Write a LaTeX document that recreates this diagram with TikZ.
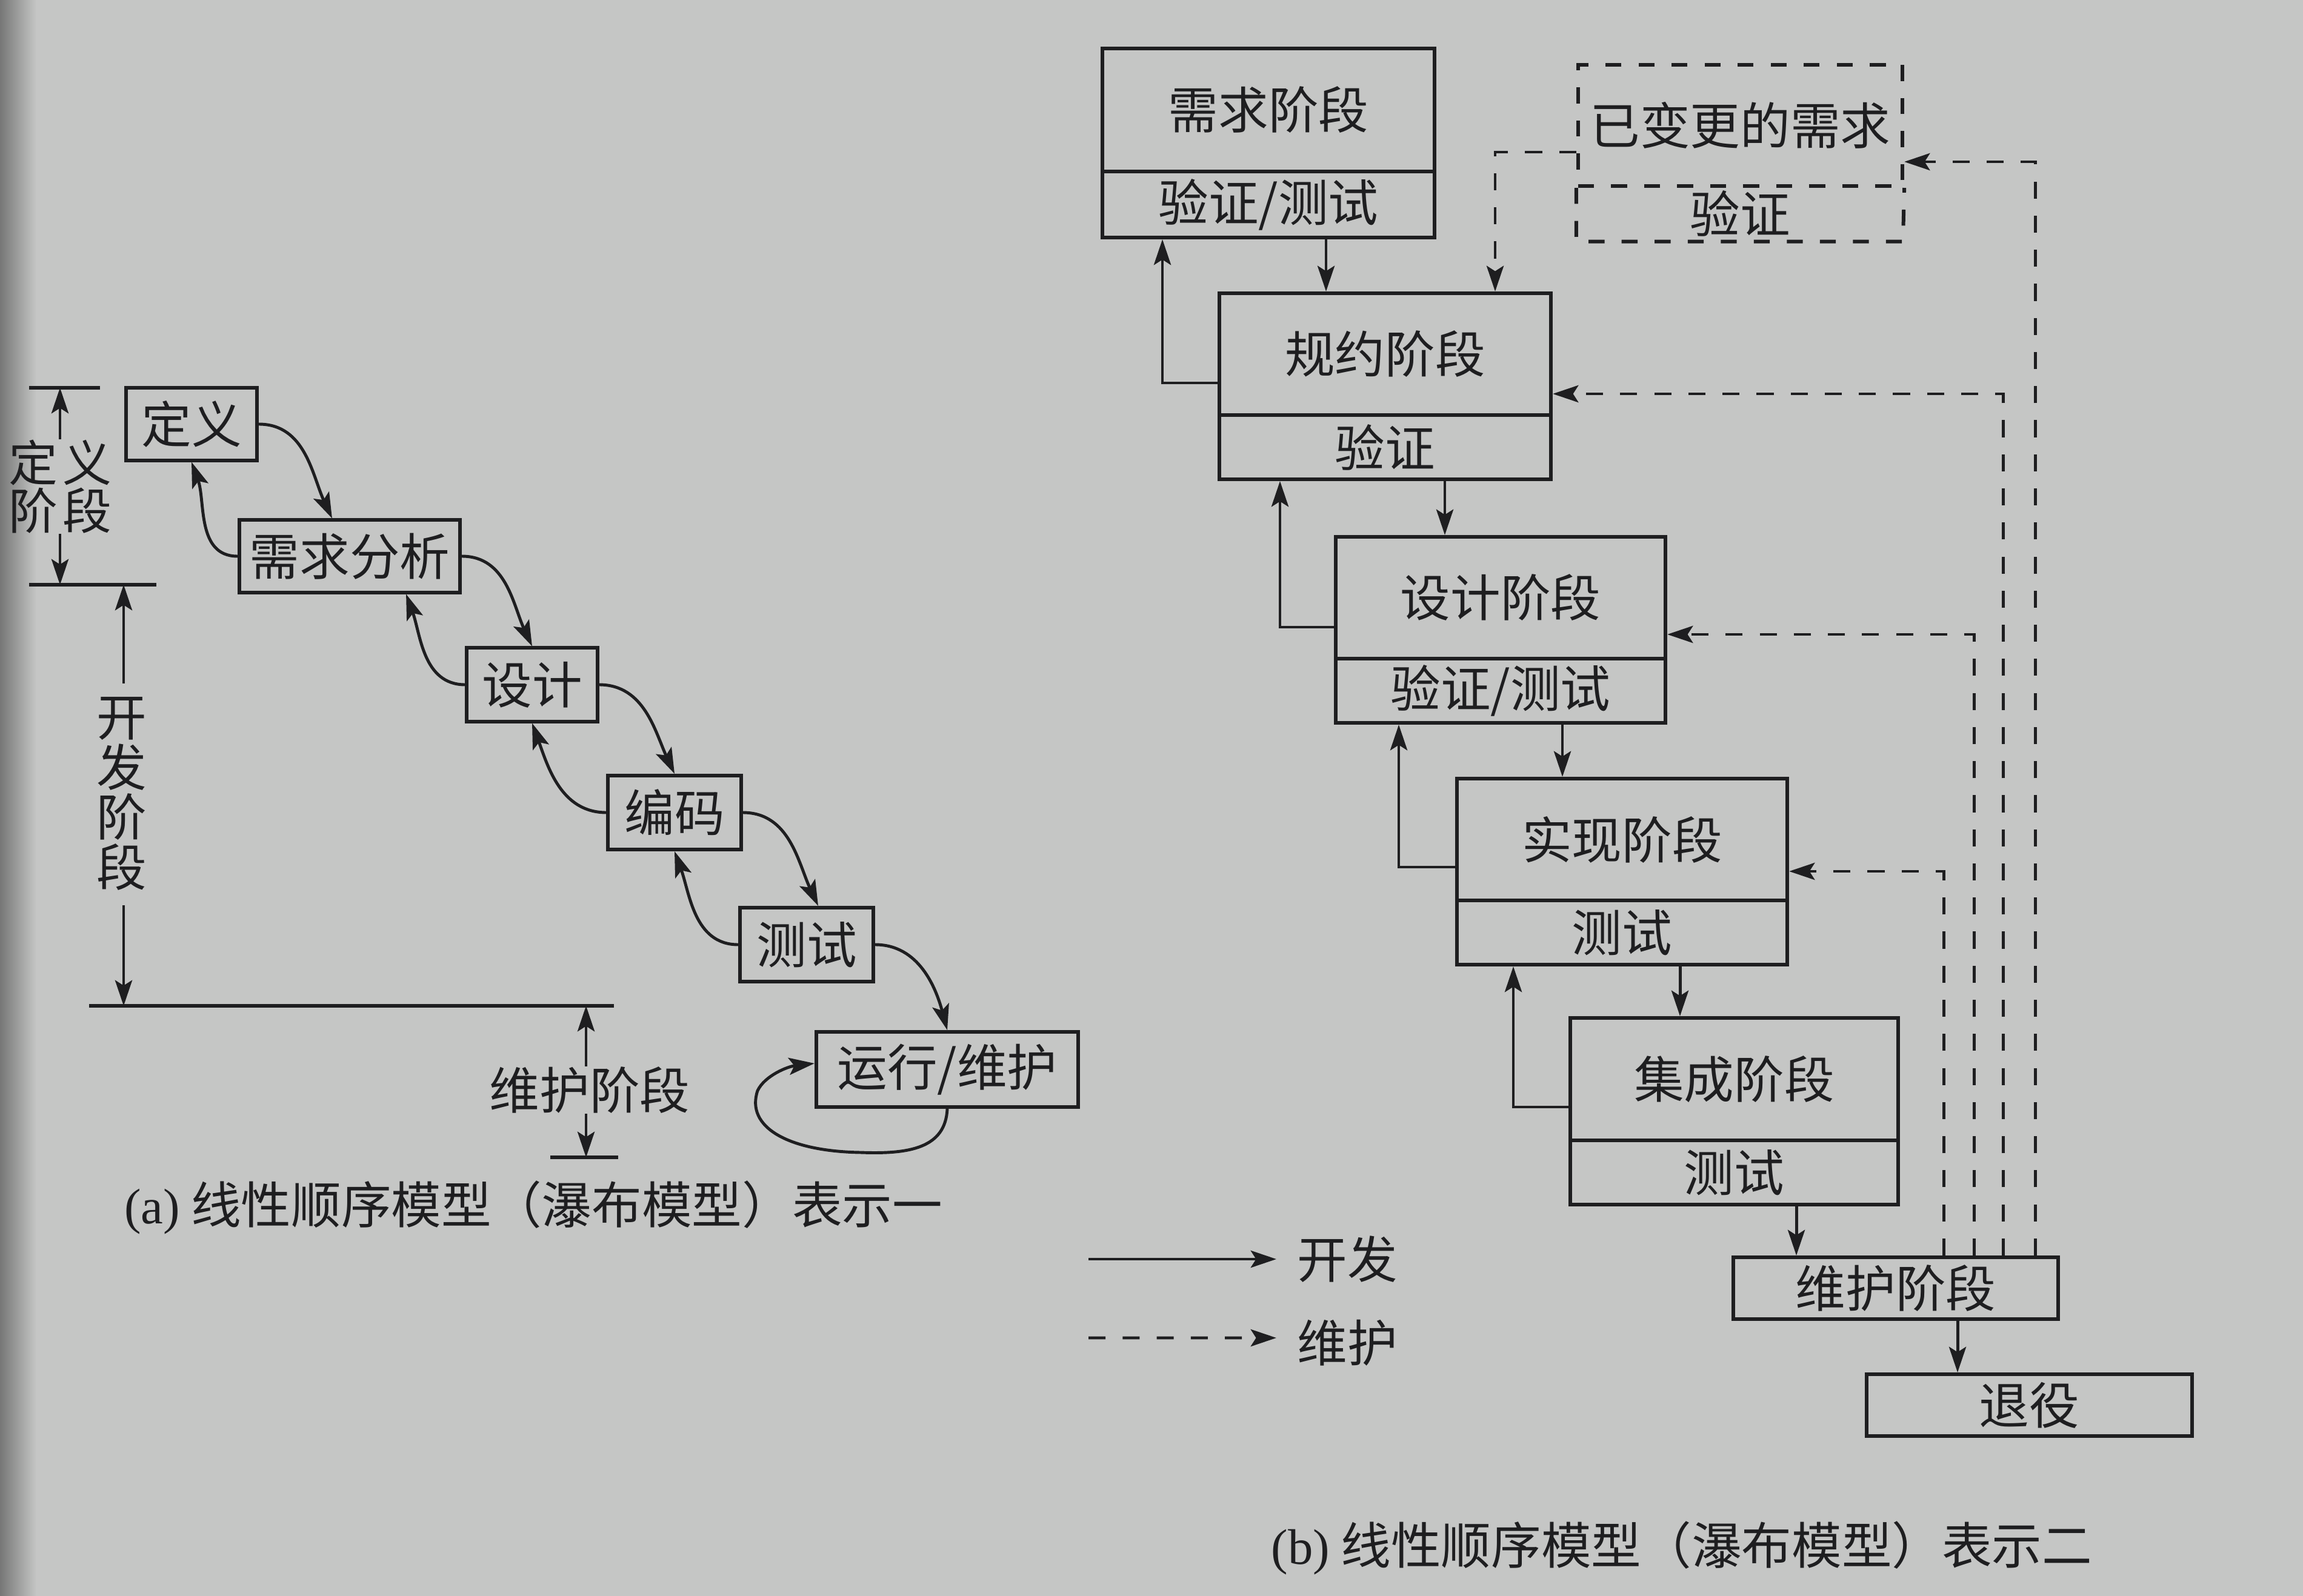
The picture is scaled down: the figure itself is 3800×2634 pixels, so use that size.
\documentclass[tikz,border=0pt]{standalone}
\usepackage{fontspec}
\setmainfont{Noto Sans CJK SC}
\newfontfamily\latf{Liberation Serif}
\usetikzlibrary{arrows.meta}
\definecolor{paper}{RGB}{197,198,197}
\definecolor{ink}{RGB}{30,30,32}
\begin{document}
\begin{tikzpicture}[x=0.01cm,y=-0.01cm,
  txt/.style={inner sep=0pt,text=ink,font=\fontsize{23.5}{28}\selectfont},
  captxt/.style={inner sep=0pt,text=ink,font=\fontsize{23.5}{28}\selectfont},
  lbox/.style={draw=ink,line width=1.7pt,inner sep=0pt,text=ink,font=\fontsize{23.5}{28}\selectfont},
  dbox/.style={lbox,dash pattern=on 7.5pt off 8pt},
  arr/.style={draw=ink,line width=1.4pt,-{Stealth[length=12pt,width=8pt,inset=2.5pt]}},
  darr/.style={arr,dash pattern=on 8pt off 8pt},
  rulel/.style={draw=ink,line width=1.7pt}]
% background
\fill[paper] (0,0) rectangle (3800,2634);
\shade[left color=black!40!paper,right color=paper] (0,0) rectangle (60,2634);
\useasboundingbox (0,0) rectangle (3800,2634);

%%%%%%%%%%%%%%%% (a) %%%%%%%%%%%%%%%%
\node[lbox,minimum width=2.16cm,minimum height=1.19cm] (def) at (316,700) {定义};
\node[lbox,minimum width=3.64cm,minimum height=1.19cm] (req) at (577,918) {需求分析};
\node[lbox,minimum width=2.15cm,minimum height=1.21cm] (des) at (878,1130) {设计};
\node[lbox,minimum width=2.19cm,minimum height=1.22cm] (cod) at (1113,1341) {编码};
\node[lbox,minimum width=2.20cm,minimum height=1.22cm] (tst) at (1331,1559) {测试};
\node[lbox,minimum width=4.32cm,minimum height=1.24cm] (run) at (1563,1765) {运行/维护};

% forward curves
\draw[arr] (def.east) to[out=0,in=115] ([xshift=-0.29cm]req.north);
\draw[arr] (req.east) to[out=0,in=115] (des.north);
\draw[arr] (des.east) to[out=0,in=115] (cod.north);
\draw[arr] (cod.east) to[out=0,in=115] ([xshift=0.19cm]tst.north);
\draw[arr] (tst.east) to[out=0,in=105] (run.north);
% backward curves
\draw[arr] (req.west) to[out=180,in=-70] (def.south);
\draw[arr] (des.west) to[out=180,in=-70] ([xshift=0.93cm]req.south);
\draw[arr] (cod.west) to[out=180,in=-70] (des.south);
\draw[arr] (tst.west) to[out=180,in=-70] (cod.south);
% loop
\draw[arr] (run.south) .. controls (1560,1895) and (1500,1905) .. (1420,1902)
  .. controls (1300,1900) and (1230,1860) .. (1250,1800)
  .. controls (1262,1775) and (1300,1760) .. ([yshift=0.1cm]run.west);

% phase rules
\coordinate (l1a) at (48,640);   \coordinate (l1b) at (165,640);
\coordinate (l2a) at (48,965);   \coordinate (l2b) at (258,965);
\coordinate (l3a) at (147,1660); \coordinate (l3b) at (1013,1660);
\coordinate (l4a) at (908,1910); \coordinate (l4b) at (1020,1910);
\draw[rulel] (l1a) -- (l1b);
\draw[rulel] (l2a) -- (l2b);
\draw[rulel] (l3a) -- (l3b);
\draw[rulel] (l4a) -- (l4b);

\node[txt,align=center,font=\fontsize{23}{21}\selectfont] (dphase) at (99,803) {定\hspace{0.1em}义\\阶\hspace{0.1em}段};
\draw[arr] (dphase.north) -- (dphase.north |- l1a);
\draw[arr] (dphase.south) -- (dphase.south |- l2a);

\node[txt,align=center,font=\fontsize{23.5}{23.5}\selectfont] (kphase) at (201,1310) {开\\发\\阶\\段};
\coordinate (kx) at (204,0);
\draw[arr] ([yshift=0.22cm]kphase.north -| kx) -- (kx |- l2a);
\coordinate (ky) at (204,1494);
\draw[arr] (ky) -- (kx |- l3a);

\node[txt] (mphase) at (973,1799) {维护阶段};
\coordinate (mx) at (967,0);
\draw[arr] (mx |- mphase.north) -- (mx |- l3a);
\draw[arr] (mx |- mphase.south) -- (mx |- l4a);

\node[captxt] (capa) at (880,1993) {{\latf (a)} 线性顺序模型（瀑布模型）表示一};

%%%%%%%%%%%%%%%% (b) %%%%%%%%%%%%%%%%
\node[lbox,minimum width=5.47cm,minimum height=2.03cm] (reqU) at (2093,181.5) {需求阶段};
\node[lbox,minimum width=5.47cm,minimum height=1.09cm] (reqL) at (2093,337.5) {验证/测试};

\node[lbox,minimum width=5.47cm,minimum height=2.01cm] (specU) at (2285.5,584.5) {规约阶段};
\node[lbox,minimum width=5.47cm,minimum height=1.06cm] (specL) at (2285.5,738) {验证};

\node[lbox,minimum width=5.44cm,minimum height=2.01cm] (desU) at (2476,986.5) {设计阶段};
\node[lbox,minimum width=5.44cm,minimum height=1.06cm] (desL) at (2476,1140) {验证/测试};

\node[lbox,minimum width=5.45cm,minimum height=2.01cm] (implU) at (2676.5,1385.5) {实现阶段};
\node[lbox,minimum width=5.45cm,minimum height=1.06cm] (implL) at (2676.5,1539) {测试};

\node[lbox,minimum width=5.41cm,minimum height=2.02cm] (intU) at (2861.5,1781) {集成阶段};
\node[lbox,minimum width=5.41cm,minimum height=1.06cm] (intL) at (2861.5,1935) {测试};

\node[lbox,minimum width=5.36cm,minimum height=1.02cm] (maint) at (3128,2126) {维护阶段};
\node[lbox,minimum width=5.37cm,minimum height=1.02cm] (retire) at (3348.5,2319) {退役};

% changed requirements (dashed)
\node[dbox,minimum width=5.35cm,minimum height=2.00cm] (chgU) at (2871.5,207) {已变更的需求};
\node[txt,minimum width=5.35cm,minimum height=0.91cm] (chgL) at (2871.5,352.5) {验证};
\draw[draw=ink,line width=1.7pt,dash pattern=on 7.5pt off 8pt]
  (chgU.south west) |- (chgL.south east) -- (chgU.south east);

% development arrows down
\coordinate (d1) at (2188,0);
\coordinate (d2) at (2384,0);
\coordinate (d3) at (2578,0);
\coordinate (d4) at (2772,0);
\coordinate (d5) at (2964,0);
\coordinate (d6) at (3230,0);
\draw[arr] (d1 |- reqL.south) -- (d1 |- specU.north);
\draw[arr] (d2 |- specL.south) -- (d2 |- desU.north);
\draw[arr] (d3 |- desL.south) -- (d3 |- implU.north);
\draw[arr] (d4 |- implL.south) -- (d4 |- intU.north);
\draw[arr] (d5 |- intL.south) -- (d5 |- maint.north);
\draw[arr] (d6 |- maint.south) -- (d6 |- retire.north);

% feedback arrows
\coordinate (f1) at (1918,632);
\coordinate (f2) at (2112,1035);
\coordinate (f3) at (2308,1431);
\coordinate (f4) at (2497,1827);
\draw[arr] (specU.west |- f1) -| (f1 |- reqL.south);
\draw[arr] (desU.west |- f2) -| (f2 |- specL.south);
\draw[arr] (implU.west |- f3) -| (f3 |- desL.south);
\draw[arr] (intU.west |- f4) -| (f4 |- implL.south);

% maintenance dashed arrows
\coordinate (m1) at (3207,1438);
\coordinate (m2) at (3257,1047);
\coordinate (m3) at (3305,650);
\coordinate (m4) at (3358,267);
\draw[darr] (m1 |- maint.north) |- (implU.east |- m1);
\draw[darr] (m2 |- maint.north) |- (desU.east |- m2);
\draw[darr] (m3 |- maint.north) |- (specU.east |- m3);
\draw[darr] (m4 |- maint.north) |- (chgU.east |- m4);
\coordinate (c1) at (2467,251);
\draw[darr] (chgU.west |- c1) -| (c1 |- specU.north);

% legend
\node[txt,anchor=west] (lgdev) at (2140,2078) {开发};
\node[txt,anchor=west] (lgmnt) at (2140,2216) {维护};
\coordinate (lg1) at (1796,2078);
\coordinate (lg2) at (1796,2208);
\draw[arr] (lg1) -- ([xshift=-0.34cm]lgdev.west);
\draw[darr] (lg2) -- ([xshift=-0.34cm,yshift=0.08cm]lgmnt.west);

\node[captxt] (capb) at (2775,2555) {{\latf (b)} 线性顺序模型（瀑布模型）表示二};
\end{tikzpicture}
\end{document}
